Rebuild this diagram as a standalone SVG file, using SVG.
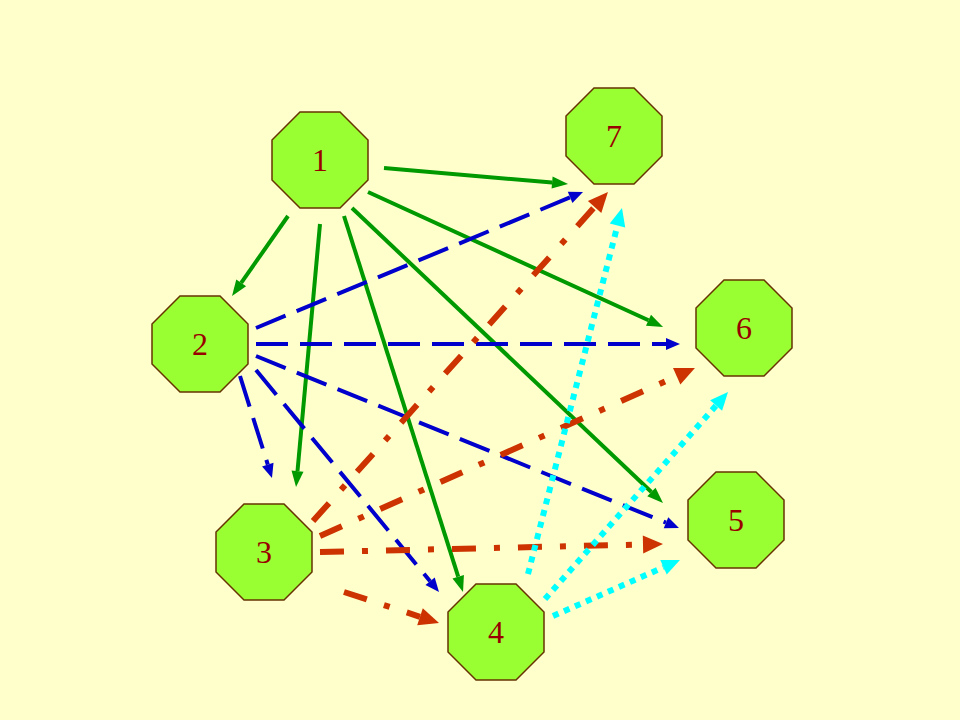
<svg xmlns="http://www.w3.org/2000/svg" width="960" height="720" viewBox="0 0 960 720">
<style>
.node polygon{fill:#99FF33;stroke:#663300;stroke-width:1.5}
.node text{font-family:"Liberation Serif","Times New Roman",serif;font-size:32px;fill:#990000;text-anchor:middle}
.g{stroke:#009900;stroke-width:4;fill:none;marker-end:url(#mg)}
.b{stroke:#0000CC;stroke-width:4;fill:none;stroke-dasharray:32 12;marker-end:url(#mb)}
.r{stroke:#CC3300;stroke-width:6;fill:none;stroke-dasharray:24 18 6 18;marker-end:url(#mr)}
.c{stroke:#00FFFF;stroke-width:6;fill:none;stroke-dasharray:6 6;marker-end:url(#mc)}
</style>
<defs>
<marker id="mg" markerUnits="userSpaceOnUse" orient="auto" markerWidth="16" markerHeight="12" refX="0" refY="6" overflow="visible"><path d="M0,0 L16,6 L0,12 Z" fill="#009900"/></marker>
<marker id="mb" markerUnits="userSpaceOnUse" orient="auto" markerWidth="14" markerHeight="12" refX="0" refY="6" overflow="visible"><path d="M0,0 L14,6 L0,12 Z" fill="#0000CC"/></marker>
<marker id="mr" markerUnits="userSpaceOnUse" orient="auto" markerWidth="20" markerHeight="18" refX="0" refY="9" overflow="visible"><path d="M0,0 L20,9 L0,18 Z" fill="#CC3300"/></marker>
<marker id="mc" markerUnits="userSpaceOnUse" orient="auto" markerWidth="18" markerHeight="16" refX="0" refY="8" overflow="visible"><path d="M0,0 L18,8 L0,16 Z" fill="#00FFFF"/></marker>
</defs>
<rect width="960" height="720" fill="#FFFFCC"/>
<g id="connectors">
<path class="g" d="M384,168 L552.1,182.6"/>
<path class="g" d="M288,216 L241.2,282.9"/>
<path class="g" d="M320,224 L297.5,471.1"/>
<path class="g" d="M344,216 L458.2,576.7"/>
<path class="g" d="M368,192 L648.5,320.3"/>
<path class="g" d="M352,208 L651.4,492"/>
<path class="b" d="M256,328 L570.1,197.4"/>
<path class="b" d="M256,344 L666,344"/>
<path class="b" d="M256,356 L666,522.7"/>
<path class="b" d="M240,376 L267.8,464.6"/>
<path class="b" d="M256,370 L430.1,581.2"/>
<path class="r" d="M313,521 L594.6,206.9"/>
<path class="r" d="M320,536 L676.7,376.2"/>
<path class="r" d="M320,552 L643,544.5"/>
<path class="r" d="M344,592 L420,616.8"/>
<path class="c" d="M528,574 L617.5,225.4"/>
<path class="c" d="M545,599 L716.1,405.5"/>
<path class="c" d="M553,616 L663.5,567.3"/>
</g>
<g id="node1" class="node" transform="translate(320,160)"><polygon points="-20,-48 20,-48 48,-20 48,20 20,48 -20,48 -48,20 -48,-20"/><text y="11">1</text></g>
<g id="node2" class="node" transform="translate(200,344)"><polygon points="-20,-48 20,-48 48,-20 48,20 20,48 -20,48 -48,20 -48,-20"/><text y="11">2</text></g>
<g id="node3" class="node" transform="translate(264,552)"><polygon points="-20,-48 20,-48 48,-20 48,20 20,48 -20,48 -48,20 -48,-20"/><text y="11">3</text></g>
<g id="node4" class="node" transform="translate(496,632)"><polygon points="-20,-48 20,-48 48,-20 48,20 20,48 -20,48 -48,20 -48,-20"/><text y="11">4</text></g>
<g id="node5" class="node" transform="translate(736,520)"><polygon points="-20,-48 20,-48 48,-20 48,20 20,48 -20,48 -48,20 -48,-20"/><text y="11">5</text></g>
<g id="node6" class="node" transform="translate(744,328)"><polygon points="-20,-48 20,-48 48,-20 48,20 20,48 -20,48 -48,20 -48,-20"/><text y="11">6</text></g>
<g id="node7" class="node" transform="translate(614,136)"><polygon points="-20,-48 20,-48 48,-20 48,20 20,48 -20,48 -48,20 -48,-20"/><text y="11">7</text></g>
</svg>
